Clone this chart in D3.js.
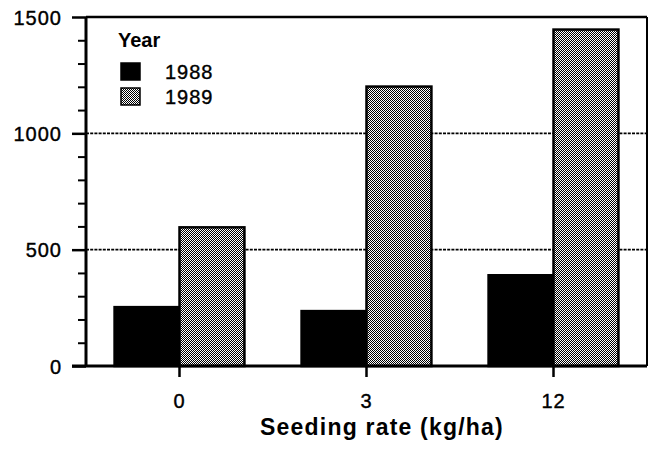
<!DOCTYPE html>
<html>
<head>
<meta charset="utf-8">
<script src="https://cdn.jsdelivr.net/npm/d3@7"></script>
<style>
  body { margin: 0; background: #fff; }
  text { font-family: "Liberation Sans", Arial, sans-serif; fill: #000; }
</style>
</head>
<body>
<div id="chart"></div>
<script>
let rates = ["0", "3", "12"];
let years = ["1988", "1989"];
let values1988 = [253, 236, 390];
let values1989 = [596, 1201, 1446];
let yTicks = [0, 500, 1000, 1500];
let gridValues = [500, 1000];

let width = 648;
let height = 449;
let margin = { top: 17, right: 1, bottom: 83, left: 86 };

let svg = d3
  .select("#chart")
  .append("svg")
  .attr("width", width)
  .attr("height", height);

/* dithered grey fill like the scan */
let defs = svg.append("defs");
let pat = defs
  .append("pattern")
  .attr("id", "dither")
  .attr("patternUnits", "userSpaceOnUse")
  .attr("width", 2)
  .attr("height", 2);
pat.append("rect").attr("width", 2).attr("height", 2).attr("fill", "#fff");
pat.append("rect").attr("width", 1).attr("height", 1).attr("fill", "#000");
pat.append("rect").attr("x", 1).attr("y", 1).attr("width", 1).attr("height", 1).attr("fill", "#000");

let g = svg.append("g").attr("transform", `translate(${margin.left}, ${margin.top})`);
let w = width - margin.left - margin.right;
let h = height - margin.top - margin.bottom;

let xScale = d3.scaleBand().domain(rates).range([0, w]).padding(0);
let xInner = d3
  .scaleBand()
  .domain(years)
  .range([0, xScale.bandwidth()])
  .paddingOuter(0.44)
  .paddingInner(0);
let yScale = d3.scaleLinear().domain([0, 1500]).range([h, 0]);

let data = rates.map((r, i) => ({ rate: r, values: [
  { year: "1988", value: values1988[i] },
  { year: "1989", value: values1989[i] }
] }));

/* dotted grid */
g.selectAll(".grid")
  .data(gridValues)
  .enter()
  .append("line")
  .attr("x1", 0)
  .attr("x2", w)
  .attr("y1", d => yScale(d))
  .attr("y2", d => yScale(d))
  .attr("stroke", "#000")
  .attr("stroke-width", 1.6)
  .attr("stroke-dasharray", "3,1.2");

/* bars */
g.selectAll(".group")
  .data(data)
  .enter()
  .append("g")
  .attr("transform", d => `translate(${xScale(d.rate)},0)`)
  .selectAll("rect")
  .data(d => d.values)
  .enter()
  .append("rect")
  .attr("x", d => xInner(d.year))
  .attr("y", d => yScale(d.value))
  .attr("width", xInner.bandwidth())
  .attr("height", d => h - yScale(d.value))
  .attr("fill", d => (d.year === "1988" ? "#000" : "url(#dither)"))
  .attr("stroke", "#000")
  .attr("stroke-width", 2.5);

/* frame: top and right */
g.append("line").attr("x1", 0).attr("x2", w).attr("y1", 0).attr("y2", 0)
  .attr("stroke", "#000").attr("stroke-width", 2.5);
g.append("line").attr("x1", w).attr("x2", w).attr("y1", 0).attr("y2", h)
  .attr("stroke", "#000").attr("stroke-width", 2);

/* y axis */
let yAxis = d3.axisLeft(yScale).tickValues(yTicks).tickSize(14).tickPadding(10)
  .tickFormat(d3.format("d"));
let yG = g.append("g").call(yAxis);
yG.select(".domain").attr("stroke-width", 3).attr("d", `M0,${h}V0`);
yG.selectAll(".tick line").attr("stroke-width", 2.5);
yG.selectAll(".tick text")
  .style("font-size", "20px")
  .style("letter-spacing", "1px")
  .style("stroke", "#000")
  .style("stroke-width", "0.4px")
  .attr("dy", "0.36em");

let yMinor = d3.axisLeft(yScale).tickValues(d3.range(0, 1501, 100).filter(v => v % 500 !== 0))
  .tickSize(8).tickFormat("");
let yMinorG = g.append("g").call(yMinor);
yMinorG.select(".domain").remove();
yMinorG.selectAll(".tick line").attr("stroke-width", 2);

/* x axis */
let xAxis = d3.axisBottom(xScale).tickSize(11).tickPadding(17);
let xG = g.append("g").attr("transform", `translate(0, ${h})`).call(xAxis);
xG.select(".domain").attr("stroke-width", 3).attr("d", `M-14,0H${w}`);
xG.selectAll(".tick line").attr("stroke-width", 2.5);
xG.selectAll(".tick text")
  .style("font-size", "20px")
  .style("letter-spacing", "1px")
  .style("stroke", "#000")
  .style("stroke-width", "0.4px");

g.append("text")
  .attr("x", 296)
  .attr("y", h + 69)
  .attr("text-anchor", "middle")
  .style("font-size", "23px")
  .style("font-weight", "bold")
  .style("letter-spacing", "1.2px")
  .text("Seeding rate (kg/ha)");

/* legend */
let legend = g.append("g").attr("transform", "translate(32, 0)");
legend.append("text")
  .attr("x", 0)
  .attr("y", 30)
  .style("font-size", "20px")
  .style("font-weight", "bold")
  .text("Year");

let lg = legend.selectAll(".lg")
  .data(years)
  .enter()
  .append("g")
  .attr("transform", (d, i) => `translate(0, ${46 + i * 25})`);

lg.append("rect")
  .attr("x", 3)
  .attr("y", 0)
  .attr("width", 19)
  .attr("height", 17)
  .attr("fill", (d, i) => (i === 0 ? "#000" : "url(#dither)"))
  .attr("stroke", "#000")
  .attr("stroke-width", 1.5);

lg.append("text")
  .attr("x", 47)
  .attr("y", 16)
  .style("font-size", "20px")
  .style("letter-spacing", "1px")
  .style("stroke", "#000")
  .style("stroke-width", "0.4px")
  .text(d => d);
</script>
</body>
</html>
